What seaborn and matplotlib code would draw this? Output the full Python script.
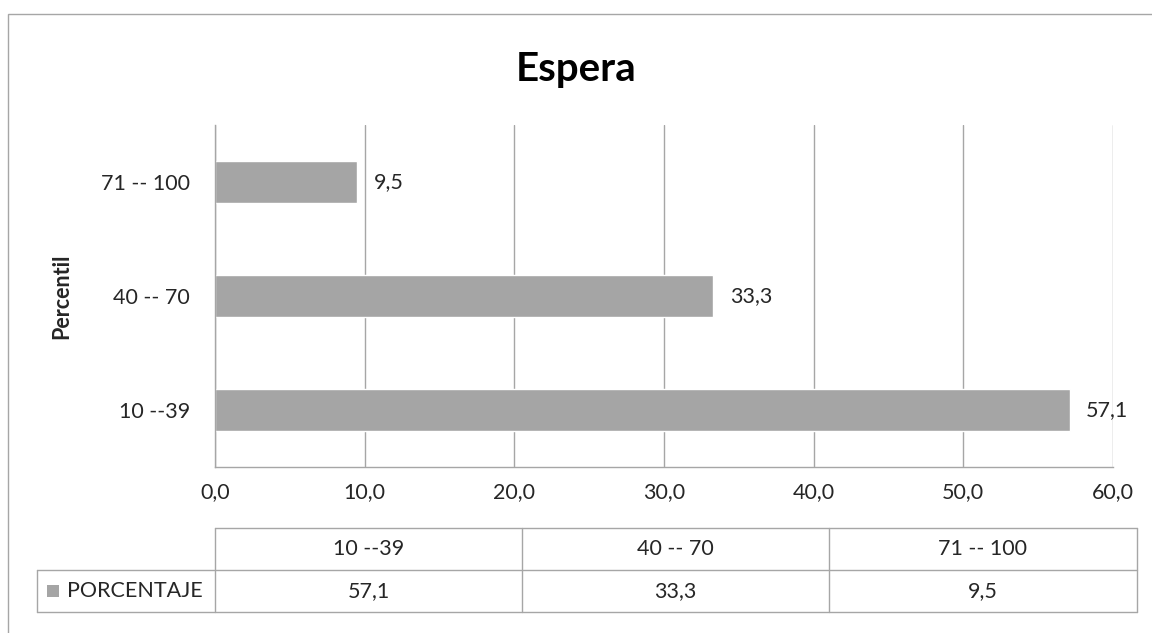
import matplotlib
matplotlib.use("Agg")
import matplotlib.pyplot as plt
import seaborn as sns
import pandas as pd
from matplotlib.lines import Line2D
from matplotlib.patches import Rectangle

# chart data
categories = ["10 --39", "40 -- 70", "71 -- 100"]
values = [57.1, 33.3, 9.5]
series_name = "PORCENTAJE"
x_ticks = [0, 10, 20, 30, 40, 50, 60]

df = pd.DataFrame({"Percentil": categories, "Valor": values})

sns.set_style("white")
plt.rcParams["font.family"] = ["Lato", "DejaVu Sans"]

W, H = 1152, 633
fig = plt.figure(figsize=(W / 100, H / 100), dpi=100)


def fx(px):
    return px / W


def fy(py):
    return 1 - py / H


bar_color = "#A5A5A5"
line_color = "#A6A6A6"
text_color = "#262626"
fs = 15.5

ax_left, ax_right, ax_top, ax_bottom = 215, 1113, 125, 467
ax = fig.add_axes([fx(ax_left), fy(ax_bottom), fx(ax_right - ax_left), (ax_bottom - ax_top) / H])

# categories listed top to bottom
order = categories[::-1]
sns.barplot(data=df, y="Percentil", x="Valor", order=order, color=bar_color,
            width=0.36, saturation=1, ax=ax, orient="h")

ax.set_xlim(0, 60)
ax.set_xticks(x_ticks)
ax.set_xticklabels([f"{t:.1f}".replace(".", ",") for t in x_ticks])
ax.grid(axis="x", color=line_color, linewidth=1)
ax.set_axisbelow(True)
for s in ["top", "right"]:
    ax.spines[s].set_visible(False)
for s in ["left", "bottom"]:
    ax.spines[s].set_color(line_color)
    ax.spines[s].set_linewidth(1)
ax.tick_params(axis="both", length=0, labelsize=fs, colors=text_color)
ax.tick_params(axis="y", pad=18)
ax.tick_params(axis="x", pad=11)
ax.set_xlabel("")
ax.set_ylabel("Percentil", fontsize=fs, fontweight="bold", color=text_color)
ax.yaxis.set_label_coords((72 - ax_left) / (ax_right - ax_left), 0.5)

for cont in ax.containers:
    ax.bar_label(cont, labels=[f"{v:.1f}".replace(".", ",") for v in cont.datavalues],
                 padding=12, fontsize=fs, color=text_color)

fig.text(0.5, fy(70), "Espera", ha="center", va="center", fontsize=29,
         fontweight="bold", color="#000000")

# chart area border
fig.add_artist(Rectangle((fx(8), fy(700)), 1.2, fy(14) - fy(700), transform=fig.transFigure,
                         fill=False, edgecolor=line_color, linewidth=1))

# data table below the axis
col_edges = [215, 522, 829, 1137]
leg_left = 37
row_top, row_mid, row_bot = 528, 570, 612


def hline(x0, x1, y):
    fig.add_artist(Line2D([fx(x0), fx(x1)], [fy(y), fy(y)], color=line_color, lw=1))


def vline(x, y0, y1):
    fig.add_artist(Line2D([fx(x), fx(x)], [fy(y0), fy(y1)], color=line_color, lw=1))


hline(col_edges[0], col_edges[-1], row_top)
hline(leg_left, col_edges[-1], row_mid)
hline(leg_left, col_edges[-1], row_bot)
vline(leg_left, row_mid, row_bot)
for xe in col_edges:
    vline(xe, row_top, row_bot)

for i, (cat, val) in enumerate(zip(categories, values)):
    cx = (col_edges[i] + col_edges[i + 1]) / 2
    fig.text(fx(cx), fy((row_top + row_mid) / 2), cat, ha="center", va="center",
             fontsize=fs, color=text_color)
    fig.text(fx(cx), fy((row_mid + row_bot) / 2), f"{val:.1f}".replace(".", ","),
             ha="center", va="center", fontsize=fs, color=text_color)

fig.add_artist(Rectangle((fx(47), fy(597)), fx(12), 12 / H, transform=fig.transFigure,
                         facecolor=bar_color, edgecolor="none"))
fig.text(fx(67), fy((row_mid + row_bot) / 2), series_name, ha="left", va="center",
         fontsize=fs, color=text_color)

fig.savefig("out.png", dpi=100)
